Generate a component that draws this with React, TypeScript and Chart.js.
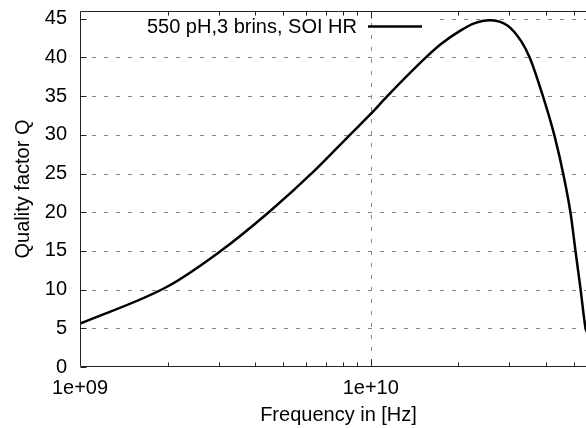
import React, { useEffect, useRef } from "react";
import { Chart, registerables } from "chart.js";

Chart.register(...registerables);

// ---- data ----
const frequencyHz = [
  1e9, 2e9, 3e9, 4.46e9, 6.38e9, 8.53e9, 1e10, 1.14e10, 1.548e10, 1.74e10,
  2.04e10, 2.27e10, 2.56e10, 2.96e10, 3.29e10, 3.52e10, 3.91e10, 4.29e10,
  4.62e10, 4.87e10, 5.06e10, 5.27e10, 5.48e10, 5.56e10, 5.62e10,
];
const qualityFactor = [
  5.6, 10.4, 14.8, 20, 25.3, 30.1, 32.7, 35, 40, 41.7,
  43.5, 44.4, 44.8, 44.1, 42.1, 40, 35, 29.8,
  24.5, 19.8, 15, 10, 5, 4.3, 3.0,
];
const seriesLabel = "550 pH,3 brins, SOI HR";
const xTickValues = [1e9, 1e10];
const xTickLabels = ["1e+09", "1e+10"];
const yTickValues = [0, 5, 10, 15, 20, 25, 30, 35, 40, 45];
const xMin = 1e9;
const xMax = 6e10;
const yMin = 0;
const yMax = 46;
const xTitle = "Frequency in [Hz]";
const yTitle = "Quality factor Q";

const FONT = "'Liberation Sans', Arial, Helvetica, sans-serif";
const FONT_SIZE = 20;

function minorLogValues(min: number, max: number): number[] {
  const out: number[] = [];
  for (let k = Math.floor(Math.log10(min)); k <= Math.ceil(Math.log10(max)); k++) {
    for (let m = 1; m <= 9; m++) {
      const v = m * Math.pow(10, k);
      if (v > min && v < max) out.push(v);
    }
  }
  return out;
}

const framePlugin = {
  id: "gnuplotFrame",
  beforeDatasetsDraw(chart: any) {
    const { ctx, chartArea, scales } = chart;
    const { left, right, top, bottom } = chartArea;
    const xs = scales.x;
    const ys = scales.y;
    ctx.save();
    ctx.strokeStyle = "#858585";
    ctx.lineWidth = 1;
    ctx.setLineDash([4, 8]);
    for (const v of yTickValues) {
      if (v === yMin) continue;
      const py = Math.round(ys.getPixelForValue(v)) + 0.5;
      ctx.beginPath();
      ctx.moveTo(left, py);
      ctx.lineTo(right, py);
      ctx.stroke();
    }
    // opaque key box
    ctx.setLineDash([]);
    ctx.fillStyle = "#ffffff";
    ctx.fillRect(left + 1, top + 1, 352, 32);
    ctx.setLineDash([4, 8]);
    for (const v of xTickValues) {
      if (v === xMin) continue;
      const px = Math.round(xs.getPixelForValue(v)) + 0.5;
      ctx.beginPath();
      ctx.moveTo(px, top);
      ctx.lineTo(px, bottom);
      ctx.stroke();
    }
    ctx.restore();
  },
  afterDatasetsDraw(chart: any) {
    const { ctx, chartArea, scales } = chart;
    const { left, right, top, bottom } = chartArea;
    const xs = scales.x;
    const ys = scales.y;
    const L = Math.floor(left) + 0.5;
    const T = Math.floor(top) + 0.5;
    const B = Math.ceil(bottom) - 0.5;
    const R = Math.ceil(right) - 0.5;
    ctx.save();
    ctx.setLineDash([]);
    ctx.strokeStyle = "#222222";
    ctx.lineWidth = 1;
    ctx.beginPath();
    ctx.moveTo(L, B);
    ctx.lineTo(L, T);
    ctx.lineTo(R, T);
    ctx.lineTo(R, B);
    ctx.lineTo(L, B);
    ctx.stroke();
    // y major ticks
    for (const v of yTickValues) {
      const py = Math.round(ys.getPixelForValue(v)) + 0.5;
      ctx.beginPath();
      ctx.moveTo(L, py);
      ctx.lineTo(L + 6, py);
      ctx.moveTo(R, py);
      ctx.lineTo(R - 6, py);
      ctx.stroke();
    }
    // x minor / major ticks
    for (const v of minorLogValues(xMin, xMax)) {
      const px = Math.round(xs.getPixelForValue(v)) + 0.5;
      const major = Math.abs(Math.log10(v) - Math.round(Math.log10(v))) < 1e-9;
      const len = major ? 7 : 4;
      ctx.beginPath();
      ctx.moveTo(px, B);
      ctx.lineTo(px, B - len);
      ctx.moveTo(px, T);
      ctx.lineTo(px, T + len);
      ctx.stroke();
    }
    // key
    ctx.fillStyle = "#000000";
    ctx.font = `${FONT_SIZE}px ${FONT}`;
    ctx.textAlign = "right";
    ctx.textBaseline = "middle";
    ctx.fillText(seriesLabel, left + 277, top + 16);
    ctx.strokeStyle = "#000000";
    ctx.lineWidth = 2.5;
    ctx.beginPath();
    ctx.moveTo(left + 288, top + 15.5);
    ctx.lineTo(left + 342, top + 15.5);
    ctx.stroke();
    ctx.restore();
  },
};

export default function App() {
  const canvasRef = useRef<HTMLCanvasElement | null>(null);

  useEffect(() => {
    const canvas = canvasRef.current;
    if (!canvas) return;
    const chart = new Chart(canvas, {
      type: "line",
      data: {
        datasets: [
          {
            label: seriesLabel,
            data: frequencyHz.map((f, i) => ({ x: f, y: qualityFactor[i] })),
            borderColor: "#000000",
            borderWidth: 2.5,
            pointRadius: 0,
            fill: false,
            cubicInterpolationMode: "monotone",
          },
        ],
      },
      options: {
        responsive: false,
        animation: false,
        devicePixelRatio: 1,
        layout: { padding: { top: 11, right: 1, left: 0, bottom: 0 } },
        plugins: {
          legend: { display: false },
          tooltip: { enabled: false },
        },
        scales: {
          x: {
            type: "logarithmic",
            min: xMin,
            max: xMax,
            afterBuildTicks: (scale: any) => {
              scale.ticks = xTickValues.map((v) => ({ value: v }));
            },
            afterFit: (scale: any) => {
              scale.height = 61;
              scale.paddingLeft = 0;
              scale.paddingRight = 0;
            },
            grid: { display: false, drawTicks: false },
            border: { display: false },
            ticks: {
              autoSkip: false,
              maxRotation: 0,
              padding: 9,
              color: "#000000",
              font: { family: FONT, size: FONT_SIZE },
              callback: (_v: any, i: number) => xTickLabels[i],
            },
            title: {
              display: true,
              text: xTitle,
              color: "#000000",
              font: { family: FONT, size: FONT_SIZE },
              padding: { top: 0, bottom: 1 },
            },
          },
          y: {
            type: "linear",
            min: yMin,
            max: yMax,
            afterBuildTicks: (scale: any) => {
              scale.ticks = yTickValues.map((v) => ({ value: v }));
            },
            afterFit: (scale: any) => {
              scale.width = 80;
              scale.paddingTop = 0;
              scale.paddingBottom = 0;
            },
            grid: { display: false, drawTicks: false },
            border: { display: false },
            ticks: {
              padding: 13,
              color: "#000000",
              font: { family: FONT, size: FONT_SIZE },
              callback: (v: any) => String(v),
            },
            title: {
              display: true,
              text: yTitle,
              color: "#000000",
              font: { family: FONT, size: FONT_SIZE },
              padding: { top: 11, bottom: 0 },
            },
          },
        },
      },
      plugins: [framePlugin],
    } as any);
    return () => chart.destroy();
  }, []);

  return (
    <div
      style={{
        position: "absolute",
        left: 0,
        top: 0,
        width: 586,
        height: 428,
        overflow: "hidden",
        background: "#ffffff",
      }}
    >
      <canvas
        ref={canvasRef}
        width={598}
        height={428}
        style={{ display: "block", width: 598, height: 428 }}
      />
    </div>
  );
}
